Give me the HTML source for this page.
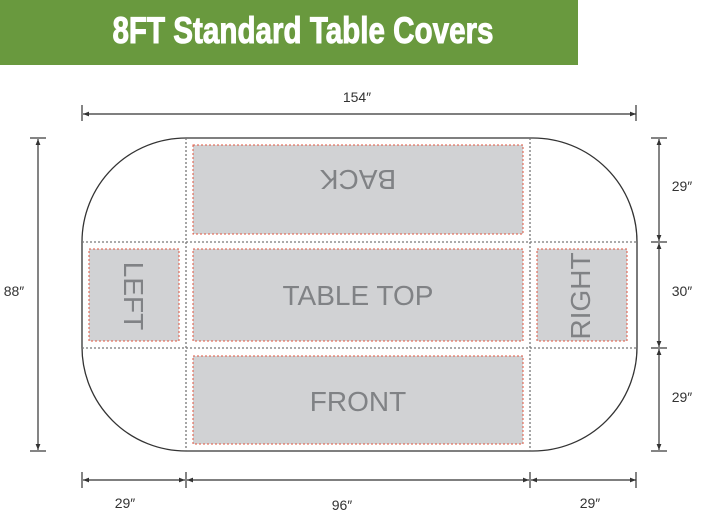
<!DOCTYPE html>
<html><head><style>
body{margin:0;width:703px;height:528px;background:#fff;overflow:hidden;position:relative;font-family:"Liberation Sans",sans-serif}
.bar{position:absolute;left:0;top:0;width:578px;height:65px;background:#69993e}
.bar span{position:absolute;left:14px;width:578px;top:10px;text-align:center;color:#fff;font-weight:bold;font-size:37px;transform:scaleX(0.8);-webkit-text-stroke:1px #fff}
</style></head><body>
<div class="bar"><span>8FT Standard Table Covers</span></div>
<svg width="703" height="528" style="position:absolute;left:0;top:0">
<defs><marker id="a" markerWidth="6" markerHeight="6" refX="5" refY="3" orient="auto-start-reverse"><path d="M0,1 L5,3 L0,5z" fill="#333"/></marker></defs>
<rect x="82" y="138" width="555" height="313" rx="104" ry="104" fill="#fff" stroke="#333" stroke-width="1.3"/>
<g stroke="#777" stroke-width="1.3" stroke-dasharray="2,2">
<line x1="186" y1="138" x2="186" y2="451"/><line x1="530" y1="138" x2="530" y2="451"/>
<line x1="82" y1="242" x2="637" y2="242"/><line x1="82" y1="348" x2="637" y2="348"/>
</g>
<g fill="#d1d2d4" stroke="#e0553f" stroke-width="1" stroke-dasharray="2,2">
<rect x="193" y="145" width="330" height="89"/>
<rect x="89" y="249" width="90" height="92"/>
<rect x="193" y="249" width="330" height="92"/>
<rect x="537" y="249" width="90" height="92"/>
<rect x="193" y="356" width="330" height="88"/>
</g>
<g fill="#808285" font-size="28" text-anchor="middle" font-family="Liberation Sans,sans-serif">
<text x="358" y="305">TABLE TOP</text>
<text x="358" y="411">FRONT</text>
<text transform="translate(358,180) rotate(180)" y="10">BACK</text>
<text transform="translate(134,296) rotate(90)" y="10">LEFT</text>
<text transform="translate(580,296) rotate(-90)" y="10">RIGHT</text>
</g>
<g stroke="#333" stroke-width="1.2" fill="none">
<line x1="83" y1="114" x2="636" y2="114" marker-start="url(#a)" marker-end="url(#a)"/>
<line x1="82" y1="105" x2="82" y2="121"/><line x1="636" y1="105" x2="636" y2="121"/>
<line x1="38" y1="139" x2="38" y2="450" marker-start="url(#a)" marker-end="url(#a)"/>
<line x1="30" y1="138" x2="46" y2="138"/><line x1="30" y1="451" x2="46" y2="451"/>
<line x1="659" y1="139" x2="659" y2="241" marker-start="url(#a)" marker-end="url(#a)"/>
<line x1="659" y1="243" x2="659" y2="347" marker-start="url(#a)" marker-end="url(#a)"/>
<line x1="659" y1="349" x2="659" y2="450" marker-start="url(#a)" marker-end="url(#a)"/>
<line x1="651" y1="138" x2="667" y2="138"/><line x1="651" y1="242" x2="667" y2="242"/><line x1="651" y1="348" x2="667" y2="348"/><line x1="651" y1="451" x2="667" y2="451"/>
<line x1="83" y1="480" x2="185" y2="480" marker-start="url(#a)" marker-end="url(#a)"/>
<line x1="187" y1="480" x2="529" y2="480" marker-start="url(#a)" marker-end="url(#a)"/>
<line x1="531" y1="480" x2="636" y2="480" marker-start="url(#a)" marker-end="url(#a)"/>
<line x1="82" y1="472" x2="82" y2="488"/><line x1="186" y1="472" x2="186" y2="488"/><line x1="530" y1="472" x2="530" y2="488"/><line x1="636" y1="472" x2="636" y2="488"/>
</g>
<g fill="#333" font-size="14" text-anchor="middle" font-family="Liberation Sans,sans-serif">
<text x="357" y="102">154″</text>
<text x="14" y="296">88″</text>
<text x="682" y="191">29″</text>
<text x="682" y="296">30″</text>
<text x="682" y="402">29″</text>
<text x="125" y="508">29″</text>
<text x="342" y="510">96″</text>
<text x="590" y="508">29″</text>
</g>
</svg>
</body></html>
